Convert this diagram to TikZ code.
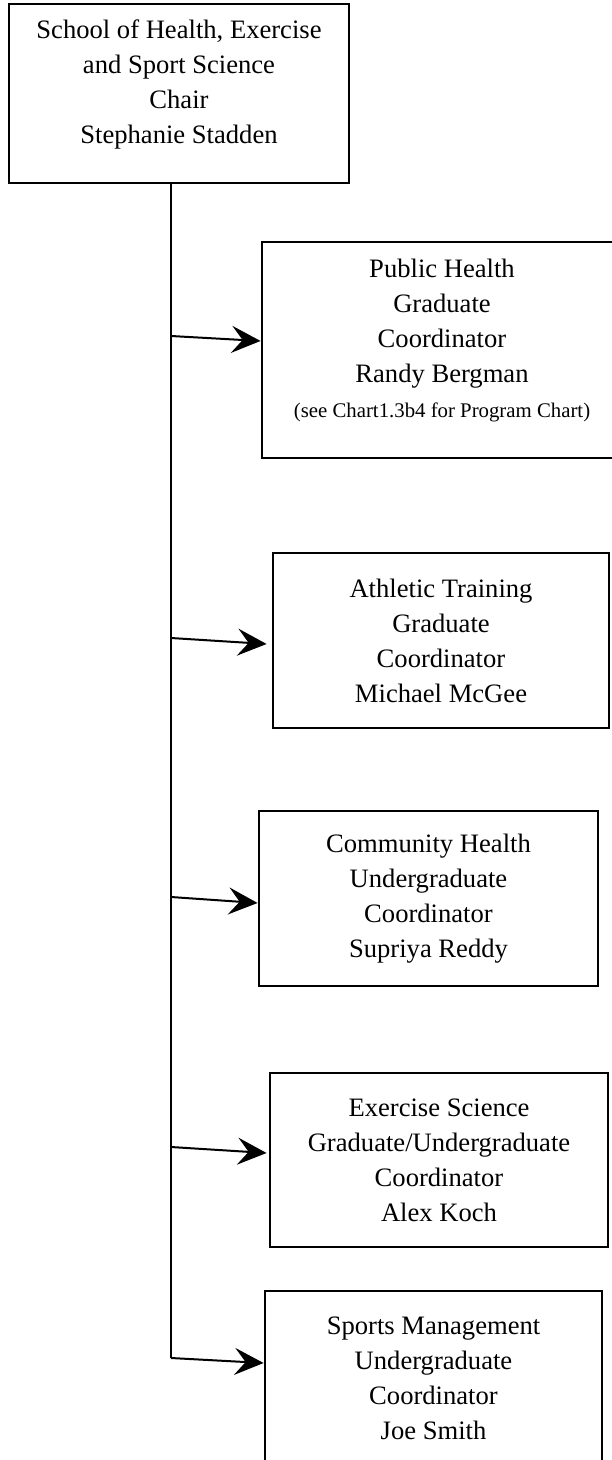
\documentclass[tikz,border=0pt]{standalone}
\usepackage{fontspec}
\setmainfont{Liberation Serif}
\usetikzlibrary{arrows.meta}

\tikzset{
  unitbox/.style={draw, line width=1.4pt, align=center, inner sep=0pt,
    font=\fontsize{13.3}{17.5}\selectfont},
  conn/.style={line width=1pt},
  arr/.style={conn, -{Stealth[length=14.5pt,width=13.5pt,inset=5.5pt]}},
}

\begin{document}
\begin{tikzpicture}[x=0.5pt,y=-0.5pt]
\useasboundingbox (0,0) rectangle (611,1460);
\fill[white] (0,0) rectangle (611,1460);

% boxes
\node[unitbox, minimum width=170pt, minimum height=89.5pt] (chair) at (179,93.5)
  {School of Health, Exercise\\and Sport Science\\Chair\\Stephanie Stadden\rule[-11.8pt]{0pt}{0pt}};
\node[unitbox, minimum width=180pt, minimum height=108pt] (ph) at (442,350)
  {Public Health\\Graduate\\Coordinator\\Randy Bergman\\{\fontsize{10.4}{11}\selectfont (see Chart1.3b4 for Program Chart)}\rule[-12.2pt]{0pt}{0pt}};
\node[unitbox, minimum width=168pt, minimum height=87.5pt] (at) at (441,640.5)
  {Athletic Training\\Graduate\\Coordinator\\Michael McGee};
\node[unitbox, minimum width=169.5pt, minimum height=87.5pt] (ch) at (428.5,898.5)
  {Community Health\\Undergraduate\\Coordinator\\Supriya Reddy};
\node[unitbox, minimum width=169pt, minimum height=87pt] (es) at (439,1160)
  {Exercise Science\\Graduate/Undergraduate\\Coordinator\\Alex Koch};
\node[unitbox, minimum width=168.5pt, minimum height=87.5pt] (sm) at (433.5,1378.5)
  {Sports Management\\Undergraduate\\Coordinator\\Joe Smith};

% spine and branches
\coordinate (b1) at (171,336);
\coordinate (b2) at (171,638);
\coordinate (b3) at (171,897);
\coordinate (b4) at (171,1147);
\coordinate (b5) at (171,1358);
\draw[conn] (chair.south -| b5) -- (b5);
\draw[arr] (b1) -- ([yshift=4.5pt]ph.west);
\draw[arr] (b2) -- ([xshift=-2.5pt,yshift=-1.75pt]at.west);
\draw[arr] (b3) -- ([yshift=-2.25pt]ch.west);
\draw[arr] (b4) -- ([xshift=-1pt,yshift=3.5pt]es.west);
\draw[arr] (b5) -- ([yshift=7.75pt]sm.west);
\end{tikzpicture}
\end{document}
